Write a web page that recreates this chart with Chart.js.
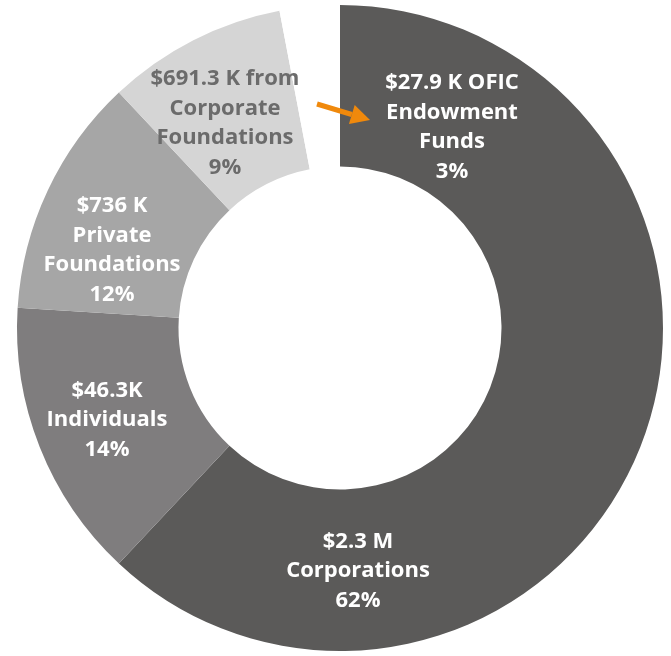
<!DOCTYPE html>
<html>
<head>
<meta charset="utf-8">
<script src="https://cdn.jsdelivr.net/npm/chart.js@4.4.0/dist/chart.umd.min.js"></script>
<style>
  html, body { margin: 0; padding: 0; background: #fff; }
  #wrap { width: 671px; height: 656px; }
</style>
</head>
<body>
<div id="wrap"><canvas id="donut"></canvas></div>
<script>
// data, clockwise from 12 o'clock
const categories = ['Corporations', 'Individuals', 'Private Foundations', 'Corporate Foundations', 'OFIC Endowment Funds'];
const shares = [62, 14, 12, 9, 3];
const labelLines = [
  ['$2.3 M', 'Corporations', '62%'],
  ['$46.3K', 'Individuals', '14%'],
  ['$736 K', 'Private', 'Foundations', '12%'],
  ['$691.3 K from', 'Corporate', 'Foundations', '9%'],
  ['$27.9 K OFIC', 'Endowment', 'Funds', '3%']
];

const sliceColors = ['#5b5a59', '#7f7d7e', '#a6a6a6', '#d5d5d5', '#ffffff'];
const textColors = ['#ffffff', '#ffffff', '#ffffff', '#6b6b6b', '#ffffff'];
// label block centres, offset from the doughnut centre
const labelOffsets = [[18, 243], [-233, 92], [-228, -78], [-115, -205], [112, -201]];

const sliceLabels = {
  id: 'sliceLabels',
  afterDatasetsDraw(chart) {
    const arc = chart.getDatasetMeta(0).data[0];
    const cx = arc.x, cy = arc.y;
    const ctx = chart.ctx;
    const lh = 29.5;
    ctx.save();
    ctx.font = 'bold 22px "Open Sans"';
    ctx.textAlign = 'center';
    ctx.textBaseline = 'middle';
    labelLines.forEach((lines, i) => {
      const [dx, dy] = labelOffsets[i];
      ctx.fillStyle = textColors[i];
      const top = cy + dy - (lines.length - 1) * lh / 2;
      lines.forEach((t, j) => ctx.fillText(t, cx + dx, top + j * lh));
    });

    // orange pointer for the small endowment slice
    const x1 = cx - 23, y1 = cy - 224, x2 = cx + 30, y2 = cy - 208;
    const ang = Math.atan2(y2 - y1, x2 - x1);
    const hl = 19, hw = 10;
    ctx.strokeStyle = '#f0890c';
    ctx.fillStyle = '#f0890c';
    ctx.lineWidth = 5;
    ctx.beginPath();
    ctx.moveTo(x1, y1);
    ctx.lineTo(x2 - hl * Math.cos(ang), y2 - hl * Math.sin(ang));
    ctx.stroke();
    ctx.beginPath();
    ctx.moveTo(x2, y2);
    ctx.lineTo(x2 - hl * Math.cos(ang) + hw * Math.sin(ang), y2 - hl * Math.sin(ang) - hw * Math.cos(ang));
    ctx.lineTo(x2 - hl * Math.cos(ang) - hw * Math.sin(ang), y2 - hl * Math.sin(ang) + hw * Math.cos(ang));
    ctx.closePath();
    ctx.fill();
    ctx.restore();
  }
};

new Chart(document.getElementById('donut'), {
  type: 'doughnut',
  data: {
    labels: categories,
    datasets: [{
      data: shares,
      backgroundColor: sliceColors,
      borderWidth: 0
    }]
  },
  options: {
    responsive: true,
    maintainAspectRatio: false,
    animation: false,
    cutout: '50%',
    layout: { padding: { left: 9, right: 0, top: 5, bottom: 5 } },
    plugins: {
      legend: { display: false },
      tooltip: { enabled: false }
    }
  },
  plugins: [sliceLabels]
});
</script>
</body>
</html>
